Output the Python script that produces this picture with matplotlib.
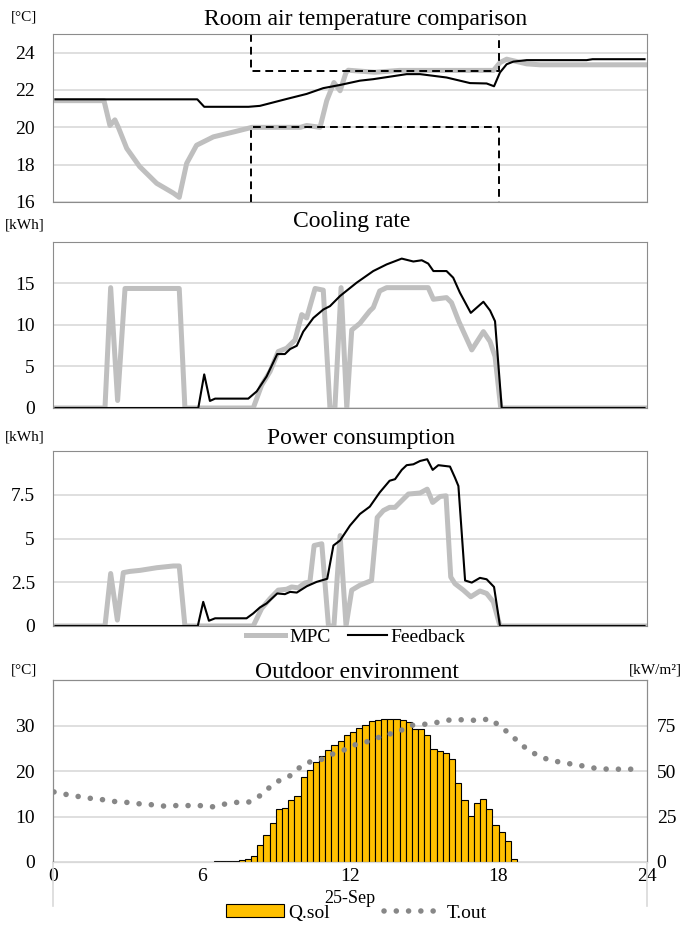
import matplotlib
matplotlib.use('Agg')
import matplotlib.pyplot as plt
import numpy as np
from matplotlib.lines import Line2D
from matplotlib.patches import Patch

# ---- data (hours of the day, 25-Sep) ----
# room air temperature [degC]
room_mpc_h = [0.1, 2.06, 2.3, 2.5, 2.64, 2.98, 3.5, 4.19, 4.86, 5.1, 5.4, 5.8, 6.48, 7.29, 8.04,
              10.0, 10.25, 10.79, 11.06, 11.35, 11.6, 11.84, 11.93, 13.0, 14.0, 17.8, 18.06,
              18.33, 19.14, 19.68, 23.9]
room_mpc = [21.43, 21.43, 20.1, 20.4, 20.0, 18.87, 17.9, 17.0, 16.48, 16.25, 18.07, 19.04, 19.49,
            19.75, 20.0, 20.0, 20.1, 20.0, 21.43, 22.4, 21.96, 22.94, 23.06, 22.95, 23.05, 23.05,
            23.47, 23.65, 23.4, 23.35, 23.35]
room_fb_h = [0.1, 5.83, 6.11, 7.9, 8.36, 9.44, 10.25, 10.92, 11.6, 12.4, 12.94, 14.29, 14.83, 15.9,
             16.44, 16.85, 17.52, 17.82, 18.06, 18.33, 18.6, 19.14, 21.56, 21.8, 23.9]
room_fb = [21.5, 21.5, 21.1, 21.1, 21.15, 21.52, 21.79, 22.1, 22.27, 22.5, 22.58, 22.85, 22.85,
           22.67, 22.5, 22.37, 22.35, 22.2, 22.94, 23.38, 23.52, 23.6, 23.6, 23.65, 23.65]
occupied = [8, 18]      # setpoint band active
t_upper = 23
t_lower = 20

# cooling rate [kWh]
cool_mpc_h = [0.1, 2.1, 2.33, 2.61, 2.91, 5.1, 5.33, 8.09, 8.43, 8.77, 9.1, 9.44, 9.78, 10.05,
              10.25, 10.59, 10.92, 11.19, 11.39, 11.64, 11.87, 12.07, 12.4, 12.8, 12.94, 13.2,
              13.48, 15.16, 15.37, 15.9, 16.1, 16.4, 16.92, 17.39, 17.66, 17.86, 18.09, 23.9]
cool_mpc = [0, 0, 14.5, 0.9, 14.4, 14.4, 0, 0, 2.75, 4.4, 6.8, 7.2, 8.2, 11.25, 10.85, 14.4, 14.2,
            0, 0, 14.5, 0, 9.4, 10.2, 11.7, 12.1, 14.1, 14.5, 14.5, 13.1, 13.3, 12.7, 10.4, 7.0,
            9.2, 8.0, 6.2, 0, 0]
cool_fb_h = [0.1, 5.87, 6.11, 6.34, 6.55, 7.89, 8.23, 8.63, 9.06, 9.37, 9.58, 9.85, 10.11, 10.52,
             10.92, 11.19, 11.6, 12.27, 12.94, 13.48, 14.09, 14.56, 14.9, 15.16, 15.37, 15.9,
             16.17, 16.44, 16.88, 17.39, 17.66, 17.86, 18.13, 23.9]
cool_fb = [0, 0, 4.05, 0.85, 1.13, 1.13, 2.0, 3.8, 6.5, 6.5, 7.1, 7.5, 9.2, 10.85, 11.86, 12.27,
           13.5, 15.1, 16.5, 17.3, 18.0, 17.65, 17.8, 17.4, 16.5, 16.5, 15.7, 13.9, 11.46, 12.8,
           11.74, 10.45, 0, 0]

# power consumption [kWh]
pow_mpc_h = [0.1, 2.1, 2.33, 2.6, 2.84, 3.11, 3.52, 4.19, 4.86, 5.1, 5.33, 8.09, 8.43, 8.77, 9.1,
             9.44, 9.64, 9.91, 10.18, 10.38, 10.55, 10.86, 11.13, 11.35, 11.6, 11.84, 12.07, 12.4,
             12.87, 13.1, 13.35, 13.6, 13.82, 14.09, 14.36, 14.83, 15.12, 15.34, 15.64, 15.88,
             16.07, 16.24, 16.58, 16.88, 17.25, 17.52, 17.79, 18.06, 23.9]
pow_mpc = [0, 0, 3.0, 0.34, 3.05, 3.12, 3.18, 3.33, 3.43, 3.43, 0, 0, 1.0, 1.57, 2.05, 2.1, 2.23,
           2.18, 2.46, 2.52, 4.6, 4.7, 0, 0, 5.17, 0, 2.05, 2.33, 2.6, 6.2, 6.6, 6.78, 6.78, 7.16,
           7.54, 7.6, 7.82, 7.06, 7.4, 7.44, 2.8, 2.42, 2.05, 1.67, 2.0, 1.86, 1.38, 0, 0]
pow_fb_h = [0.1, 5.85, 6.07, 6.3, 6.55, 7.82, 8.09, 8.36, 8.63, 9.06, 9.37, 9.58, 9.85, 10.25,
            10.65, 11.08, 11.33, 11.6, 12.0, 12.4, 12.8, 13.2, 13.6, 13.82, 14.09, 14.29, 14.56,
            14.83, 15.12, 15.34, 15.57, 16.04, 16.24, 16.38, 16.65, 16.92, 17.25, 17.52, 17.82,
            18.06, 23.9]
pow_fb = [0, 0, 1.38, 0.3, 0.44, 0.44, 0.72, 1.06, 1.29, 1.86, 1.82, 1.95, 1.91, 2.27, 2.52, 2.7,
          4.6, 4.89, 5.74, 6.4, 6.82, 7.63, 8.3, 8.39, 8.92, 9.19, 9.24, 9.43, 9.53, 8.92, 9.19,
          9.11, 8.48, 8.0, 2.6, 2.48, 2.75, 2.67, 2.23, 0, 0]

# outdoor: solar radiation, 15 min bars starting 6:30 [kW/m2]
qsol_start = np.arange(6.5, 18.75, 0.25)
qsol = [0.4, 0.4, 0.5, 0.8, 1.3, 1.8, 3.1, 9.5, 14.6, 21.4, 28.9, 29.6, 33.8, 36.0, 46.6, 50.6,
        54.8, 58.1, 61.6, 64.5, 66.7, 70.0, 71.3, 73.7, 75.5, 77.3, 78.1, 78.4, 78.4, 78.4, 78.1,
        77.1, 73.1, 73.1, 70.0, 62.0, 60.9, 59.8, 56.7, 43.5, 34.2, 25.4, 32.4, 34.7, 29.1, 20.1,
        16.5, 11.7, 1.6]
# outdoor air temperature [degC]
tout_h = [0.04, 0.53, 1.02, 1.5, 2.0, 2.49, 2.98, 3.47, 3.96, 4.46, 4.94, 5.43, 5.93, 6.41, 6.91,
          7.39, 7.88, 8.3, 8.66, 9.06, 9.51, 9.87, 10.28, 10.76, 11.22, 11.66, 12.07, 12.57,
          13.01, 13.48, 13.95, 14.36, 14.83, 15.33, 15.8, 16.28, 16.78, 17.22, 17.67, 18.06,
          18.45, 18.82, 19.22, 19.64, 20.1, 20.58, 21.06, 21.55, 21.99, 22.52, 23.0, 23.49]
tout = [15.4, 14.85, 14.4, 14.0, 13.7, 13.3, 13.1, 12.8, 12.6, 12.3, 12.4, 12.4, 12.4, 12.1, 12.7,
        13.1, 13.1, 14.3, 16.0, 17.7, 18.65, 20.4, 21.9, 22.3, 23.6, 24.3, 25.6, 26.2, 27.1, 28.0,
        28.5, 30.0, 30.2, 30.4, 31.1, 31.3, 31.2, 31.1, 31.5, 29.8, 28.2, 26.3, 24.5, 23.3, 22.3,
        21.9, 21.4, 21.0, 20.5, 20.4, 20.4, 20.4]

hour_ticks = [0, 6, 12, 18, 24]

MPC_C = '#BFBFBF'
GRID_C = '#D9D9D9'
EDGE_C = '#8C8C8C'
TOUT_C = '#878787'
DOTS = (0, (0.01, 2.2))

plt.rcParams['font.family'] = ['Liberation Serif', 'DejaVu Serif']

W, H = 683, 925
fig = plt.figure(figsize=(W / 100, H / 100), dpi=100)


def box(l, t, r, b):
    'pixel box -> figure fraction'
    return [l / W, 1 - b / H, (r - l) / W, (b - t) / H]


def style(ax, ylim, yticks, ylabels):
    ax.set_xlim(0, 24)
    ax.set_ylim(*ylim)
    ax.set_yticks(yticks)
    ax.set_yticklabels(ylabels)
    ax.set_xticks([])
    ax.grid(axis='y', color=GRID_C, lw=1.2)
    ax.set_axisbelow(True)
    for s in ax.spines.values():
        s.set_color(EDGE_C)
        s.set_linewidth(0.8)
    ax.tick_params(axis='y', length=0, pad=13, labelsize=14)


def txt(x, y, s, size, **kw):
    fig.text(x / W, 1 - y / H, s, fontsize=size, ha='center', va='center', **kw)


# room temperature
ax1 = fig.add_axes(box(53, 34, 647, 202))
style(ax1, (16, 25), [16, 18, 20, 22, 24], ['16', '18', '20', '22', '24'])
ax1.plot(room_mpc_h, room_mpc, color=MPC_C, lw=3.6, solid_joinstyle='round')
ax1.plot(room_fb_h, room_fb, color='black', lw=1.5)
top, bot = ax1.get_ylim()[1], ax1.get_ylim()[0]
dash = dict(color='black', lw=1.4, ls=(0, (4, 2.6)), clip_on=False)
ax1.plot([occupied[0], occupied[0], occupied[1], occupied[1]], [top, t_upper, t_upper, top], **dash)
ax1.plot([occupied[0], occupied[0], occupied[1], occupied[1]], [bot, t_lower, t_lower, bot], **dash)

# cooling rate
ax2 = fig.add_axes(box(53, 242, 647, 408))
style(ax2, (0, 20), [0, 5, 10, 15], ['0', '5', '10', '15'])
ax2.plot(cool_mpc_h, cool_mpc, color=MPC_C, lw=3.6, solid_joinstyle='round')
ax2.plot(cool_fb_h, cool_fb, color='black', lw=1.5)

# power consumption
ax3 = fig.add_axes(box(53, 451, 647, 626))
style(ax3, (0, 10), [0, 2.5, 5, 7.5], ['0', '2.5', '5', '7.5'])
ax3.plot(pow_mpc_h, pow_mpc, color=MPC_C, lw=3.6, solid_joinstyle='round')
ax3.plot(pow_fb_h, pow_fb, color='black', lw=1.5)

# outdoor environment
ax4 = fig.add_axes(box(53, 680, 647, 862))
ax4r = ax4.twinx()
ax4.set_zorder(ax4r.get_zorder() + 1)
ax4.patch.set_visible(False)
ax4r.bar(qsol_start, qsol, width=0.25, align='edge', color='#FFC000',
         edgecolor='black', linewidth=0.8)
ax4r.set_ylim(0, 100)
ax4r.set_yticks([0, 25, 50, 75])
ax4r.grid(axis='y', color=GRID_C, lw=1.2)
ax4r.set_axisbelow(True)
ax4r.tick_params(axis='y', length=0, pad=7, labelsize=14)
ax4.plot(tout_h, tout, color=TOUT_C, lw=4.0, ls=DOTS, dash_capstyle='round')
ax4.set_xlim(0, 24)
ax4.set_ylim(0, 40)
ax4.set_yticks([0, 10, 20, 30])
ax4.set_xticks(hour_ticks)
ax4.tick_params(axis='y', length=0, pad=13, labelsize=14)
ax4.tick_params(axis='x', length=0, pad=4, labelsize=14)
ax4.set_xlabel('25-Sep', fontsize=13, labelpad=4)
for a in (ax4, ax4r):
    for s in a.spines.values():
        s.set_color(EDGE_C)
        s.set_linewidth(0.8)
    a.spines['bottom'].set_color(GRID_C)
for xx in (0, 1):
    ax4.plot([xx, xx], [0, -0.24], transform=ax4.transAxes, color=GRID_C, lw=1.2, clip_on=False)

# titles and unit labels
txt(366, 20, 'Room air temperature comparison', 17)
txt(352, 222, 'Cooling rate', 17)
txt(361, 438, 'Power consumption', 17)
txt(357, 672, 'Outdoor environment', 17)
txt(24, 17, '[°C]', 11)
txt(25, 225, '[kWh]', 11)
txt(25, 437, '[kWh]', 11)
txt(24, 670, '[°C]', 11)
txt(655, 670, '[kW/m²]', 11)

# legends
h1 = [Line2D([], [], color=MPC_C, lw=3.6), Line2D([], [], color='black', lw=1.5)]
fig.legend(h1, ['MPC', 'Feedback'], loc='center', bbox_to_anchor=(356 / W, 1 - 637 / H),
           ncol=2, frameon=False, fontsize=14, handlelength=2.0, handletextpad=0.2,
           columnspacing=0.9, borderpad=0)
h2 = [Patch(facecolor='#FFC000', edgecolor='black', linewidth=0.8),
      Line2D([], [], color=TOUT_C, lw=4.0, ls=DOTS, dash_capstyle='round')]
fig.legend(h2, ['Q.sol', 'T.out'], loc='center', bbox_to_anchor=(356 / W, 1 - 913 / H),
           ncol=2, frameon=False, fontsize=14, handlelength=3.0, handleheight=0.6,
           handletextpad=0.2, columnspacing=2.8, borderpad=0)

fig.savefig('out.png', dpi=100)
